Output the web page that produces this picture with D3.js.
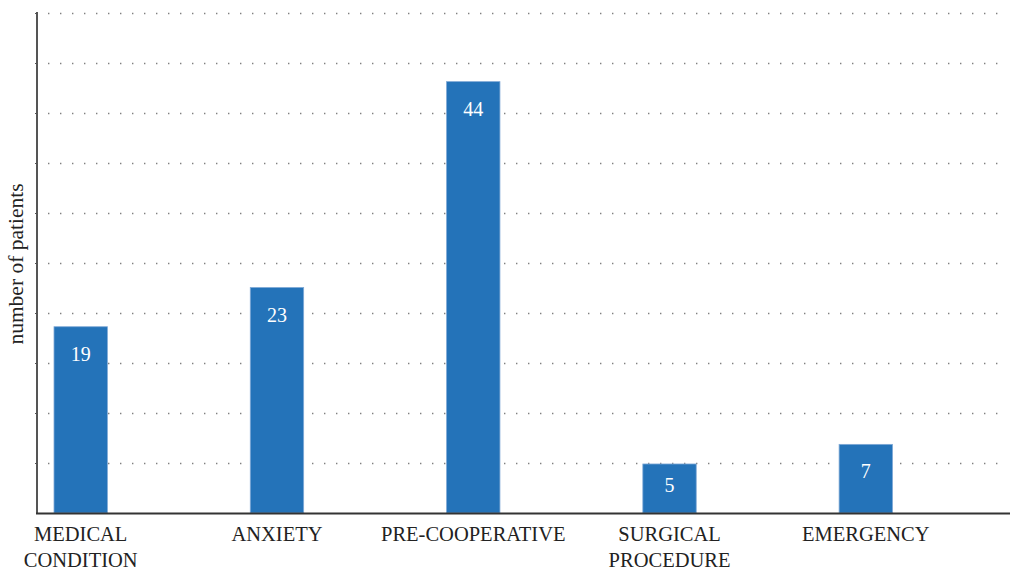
<!DOCTYPE html>
<html>
<head>
<meta charset="utf-8">
<script src="https://cdn.jsdelivr.net/npm/d3@7"></script>
<style>
  html, body { margin: 0; padding: 0; background: #fff; }
  svg { display: block; }
</style>
</head>
<body>
<svg id="chart" width="1010" height="571"></svg>
<script>
// Patients by reason category
const categories = [
  ["MEDICAL", "CONDITION"],
  ["ANXIETY"],
  ["PRE-COOPERATIVE"],
  ["SURGICAL", "PROCEDURE"],
  ["EMERGENCY"]
];
const patients = [19, 23, 44, 5, 7];
const yMax = 51;
const gridCount = 10;
const yTitle = "number of patients";

const svg = d3.select("#chart");
const plotLeft = 37, plotRight = 1010, plotTop = 12, plotBottom = 513;
const serif = "'Liberation Serif', 'DejaVu Serif', serif";

const keys = categories.map(c => c.join(" "));

const x = d3.scaleBand()
  .domain(keys)
  .range([54, 892.5])
  .paddingInner(0.728)
  .paddingOuter(0);

const y = d3.scaleLinear()
  .domain([0, yMax])
  .range([plotBottom, plotTop + 1]);

// dotted horizontal gridlines
const gridVals = d3.range(1, gridCount + 1).map(i => i * yMax / gridCount);
svg.append("g")
  .selectAll("line")
  .data(gridVals)
  .join("line")
  .attr("x1", plotLeft + 11)
  .attr("x2", 1008)
  .attr("y1", d => Math.round(y(d)) + 0.5)
  .attr("y2", d => Math.round(y(d)) + 0.5)
  .attr("stroke", "#808080")
  .attr("stroke-width", 1.4)
  .attr("stroke-dasharray", "1.4 10.6");

// y axis with short tick marks, no labels
const yAxis = d3.axisLeft(y)
  .tickValues(gridVals)
  .tickSize(2)
  .tickFormat("");
const ya = svg.append("g")
  .attr("transform", `translate(${plotLeft},0)`)
  .call(yAxis);
ya.select(".domain")
  .attr("d", `M0,${plotTop}V${plotBottom}`)
  .attr("stroke", "#555")
  .attr("stroke-width", 2);
ya.selectAll(".tick line").attr("stroke", "#555");

// bars
svg.append("g")
  .selectAll("rect")
  .data(patients)
  .join("rect")
  .attr("x", (d, i) => x(keys[i]))
  .attr("y", d => y(d))
  .attr("width", x.bandwidth())
  .attr("height", d => plotBottom - y(d))
  .attr("fill", "#2473b9")
  .attr("stroke", "#7fa9d6")
  .attr("stroke-width", 0.8);

// value labels inside bars
svg.append("g")
  .selectAll("text")
  .data(patients)
  .join("text")
  .attr("x", (d, i) => x(keys[i]) + x.bandwidth() / 2)
  .attr("y", d => Math.min(y(d) + 34, (y(d) + plotBottom) / 2 + 4))
  .attr("text-anchor", "middle")
  .attr("fill", "#fff")
  .attr("font-family", serif)
  .attr("font-size", 20)
  .text(d => d);

// x baseline
svg.append("line")
  .attr("x1", plotLeft - 1)
  .attr("x2", plotRight)
  .attr("y1", plotBottom + 0.5)
  .attr("y2", plotBottom + 0.5)
  .attr("stroke", "#333")
  .attr("stroke-width", 2);

// category labels
const cat = svg.append("g")
  .selectAll("text")
  .data(categories)
  .join("text")
  .attr("text-anchor", "middle")
  .attr("fill", "#222")
  .attr("font-family", serif)
  .attr("font-size", 20.5)
  .attr("transform", (d, i) => `translate(${x(keys[i]) + x.bandwidth() / 2},0)`);
cat.selectAll("tspan")
  .data(d => d)
  .join("tspan")
  .attr("x", 0)
  .attr("y", (d, j) => 540.5 + j * 26)
  .text(d => d);

// y axis title
svg.append("text")
  .attr("transform", `translate(23,264) rotate(-90)`)
  .attr("text-anchor", "middle")
  .attr("fill", "#222")
  .attr("font-family", serif)
  .attr("font-size", 21.5)
  .text(yTitle);
</script>
</body>
</html>
